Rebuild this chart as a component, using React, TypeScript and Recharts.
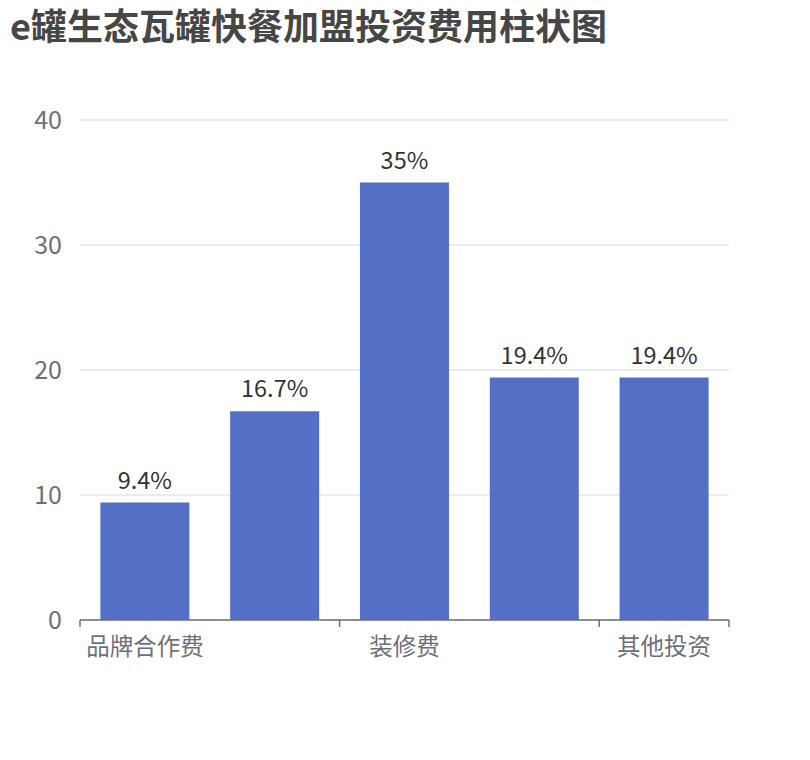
import { BarChart, Bar, XAxis, YAxis, CartesianGrid, LabelList } from 'recharts';

// hidden labels (2nd, 4th) are not shown in the reference, names are guesses
const categories = ['品牌合作费', '设备费', '装修费', '首批原料费', '其他投资'];
const shares = [9.4, 16.7, 35, 19.4, 19.4];
const yTicks = [0, 10, 20, 30, 40];

const data = categories.map((name, i) => ({ name, value: shares[i] }));

const W = 810;
const H = 760;
const TITLE_H = 48;
const Y_AXIS_W = 80;
const X_AXIS_H = 40;
// plot area in page coords: x 80..729, y 120..620
const margin = { top: 120 - TITLE_H, right: 81, bottom: 140 - X_AXIS_H, left: 0 };
const band = (W - Y_AXIS_W - margin.right) / categories.length;

const FONT = '"Noto Sans CJK SC", "Noto Sans", sans-serif';
const AXIS_COLOR = '#6E7079';

function XTick(props: any) {
  const { x, y, payload, index } = props;
  const half = payload?.offset || band / 2;
  const isLast = index === categories.length - 1;
  const showLabel = index % 2 === 0;
  return (
    <g>
      {showLabel && (
        <line x1={x - half} x2={x - half} y1={y} y2={y + 7} stroke={AXIS_COLOR} strokeWidth={1.5} />
      )}
      {isLast && (
        <line x1={x + half} x2={x + half} y1={y} y2={y + 7} stroke={AXIS_COLOR} strokeWidth={1.5} />
      )}
      {showLabel && (
        <text x={x} y={y + 35} textAnchor="middle" fill={AXIS_COLOR} fontSize={23.5} fontFamily={FONT}>
          {payload.value}
        </text>
      )}
    </g>
  );
}

export default function App() {
  return (
    <div style={{ position: 'absolute', left: 0, top: 0, width: W, height: H, background: '#fff' }}>
      <div
        style={{
          height: TITLE_H,
          paddingLeft: 10,
          fontSize: 36,
          lineHeight: `${TITLE_H}px`,
          fontWeight: 'bold',
          color: '#464646',
          fontFamily: FONT,
          whiteSpace: 'nowrap',
        }}
      >
        e罐生态瓦罐快餐加盟投资费用柱状图
      </div>
      <BarChart width={W} height={H - TITLE_H} data={data} margin={margin} barCategoryGap="15.7%">
        <CartesianGrid vertical={false} stroke="#E0E6F1" strokeWidth={1.5} />
        <XAxis
          dataKey="name"
          interval={0}
          tickLine={false}
          tickSize={0}
          tickMargin={0}
          axisLine={{ stroke: AXIS_COLOR, strokeWidth: 1.5 }}
          tick={<XTick />}
          height={X_AXIS_H}
        />
        <YAxis
          domain={[0, 40]}
          ticks={yTicks}
          axisLine={false}
          tickLine={false}
          tickMargin={12}
          width={Y_AXIS_W}
          tick={{ fill: AXIS_COLOR, fontSize: 25, fontFamily: FONT }}
        />
        <Bar dataKey="value" fill="#5470C6" isAnimationActive={false}>
          <LabelList
            dataKey="value"
            position="top"
            offset={14}
            formatter={(v: any) => `${v}%`}
            fill="#333"
            fontSize={23.5}
            fontFamily={FONT}
          />
        </Bar>
      </BarChart>
    </div>
  );
}
